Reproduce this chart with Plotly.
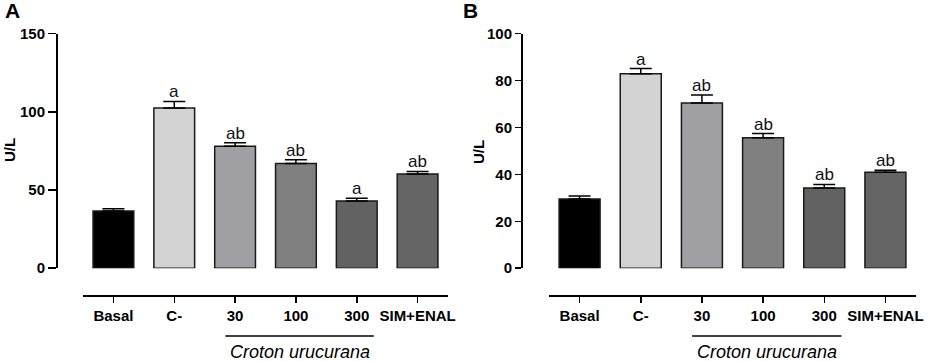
import plotly.graph_objects as go

categories = ["Basal", "C-", "30", "100", "300", "SIM+ENAL"]
colors = ["#000000", "#d3d3d3", "#a0a0a4", "#808080", "#626262", "#656565"]

a_mean = [36.5, 102.5, 78.0, 67.0, 43.0, 60.3]
a_err = [1.5, 4.1, 2.2, 2.3, 1.8, 1.6]
a_letters = ["", "a", "ab", "ab", "a", "ab"]

b_mean = [29.5, 82.9, 70.4, 55.6, 34.2, 40.9]
b_err = [1.3, 2.2, 3.4, 1.8, 1.5, 0.9]
b_letters = ["", "a", "ab", "ab", "ab", "ab"]

a_ticks = [0, 50, 100, 150]
b_ticks = [0, 20, 40, 60, 80, 100]

W, H = 941, 362
FONT = "Liberation Sans, Arial, sans-serif"


def px_x(px):
    return px / W


def px_y(py):
    return 1 - py / H


fig = go.Figure()

for means, errs, xa, ya in [(a_mean, a_err, "x", "y"), (b_mean, b_err, "x2", "y2")]:
    fig.add_trace(go.Bar(
        x=list(range(len(categories))), y=means, xaxis=xa, yaxis=ya,
        width=0.67,
        marker=dict(color=colors, line=dict(color="#1a1a1a", width=1.5)),
        error_y=dict(type="data", array=errs, arrayminus=[0] * len(errs), symmetric=False,
                     color="#000000", thickness=1.5, width=11),
        showlegend=False,
    ))

annotations = []
for means, errs, letters, xa, ya in [(a_mean, a_err, a_letters, "x", "y"),
                                     (b_mean, b_err, b_letters, "x2", "y2")]:
    for i, (m, e, t) in enumerate(zip(means, errs, letters)):
        if t:
            annotations.append(dict(x=i, y=m + e, xref=xa, yref=ya, text=t, showarrow=False,
                                    yanchor="bottom", yshift=-2,
                                    font=dict(family=FONT, size=17, color="#111")))

# panel letters and y titles
for txt, x, y in [("A", 12, 11), ("B", 470, 11)]:
    annotations.append(dict(x=px_x(x), y=px_y(y), xref="paper", yref="paper", text=txt,
                            showarrow=False, xanchor="center", yanchor="middle",
                            font=dict(family=FONT, size=21, color="#000", weight="bold")))
for x, y in [(10, 150), (478, 152)]:
    annotations.append(dict(x=px_x(x), y=px_y(y), xref="paper", yref="paper", text="U/L",
                            textangle=-90, showarrow=False, xanchor="center", yanchor="middle",
                            font=dict(family=FONT, size=15, color="#000", weight="bold")))

# Croton urucurana group labels
shapes = []
for xa in ["x", "x2"]:
    shapes.append(dict(type="line", xref=xa, yref="paper", x0=1.84, x1=4.28,
                       y0=px_y(336), y1=px_y(336), line=dict(color="#000", width=1.5)))
    annotations.append(dict(x=3.06, y=px_y(352), xref=xa, yref="paper",
                            text="<i>Croton urucurana</i>", showarrow=False,
                            xanchor="center", yanchor="middle",
                            font=dict(family=FONT, size=18, color="#000")))

ydom = [px_y(268.2), px_y(33.6)]
tickfont = dict(family=FONT, size=15, color="#000", weight="bold")

common_x = dict(range=[-0.5, 5.5], anchor="free", position=px_y(295), showline=True,
                linecolor="#000", linewidth=1.5, ticks="outside", ticklen=6, tickwidth=1.5,
                tickcolor="#000", tickfont=tickfont, showgrid=False, zeroline=False,
                tickmode="array", tickvals=list(range(len(categories))), ticktext=categories,
                automargin=False, fixedrange=True)

common_y = dict(domain=ydom, anchor="free", showline=True, linecolor="#000", linewidth=2,
                ticks="outside", tickwidth=1.5, tickcolor="#000", tickfont=tickfont,
                showgrid=False, zeroline=False, automargin=False, fixedrange=True)

fig.update_layout(
    template="none",
    width=W, height=H,
    margin=dict(l=0, r=0, t=0, b=0, pad=0),
    paper_bgcolor="white", plot_bgcolor="white",
    hovermode=False,
    xaxis=dict(domain=[px_x(83), px_x(448)], **common_x),
    xaxis2=dict(domain=[px_x(549), px_x(916)], **common_x),
    yaxis=dict(range=[0, 150], tickvals=a_ticks, position=px_x(57), ticklen=8, **common_y),
    yaxis2=dict(range=[0, 100], tickvals=b_ticks, position=px_x(522), ticklen=6, **common_y),
    annotations=annotations,
    shapes=shapes,
)

# remove the browser's default 8px body margin so the figure fills the window exactly
fig.write_html("out.html",
               config={"displayModeBar": False, "staticPlot": True},
               post_script="document.body.style.margin='0';document.body.style.overflow='hidden';")
